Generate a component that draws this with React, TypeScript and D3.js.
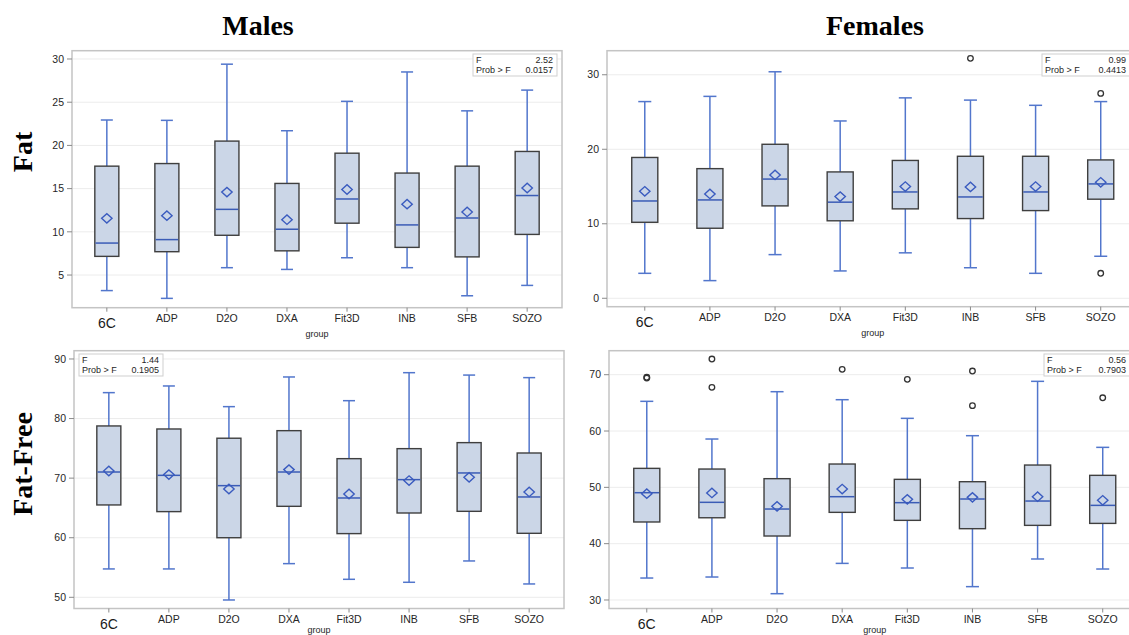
import React from "react";
import * as d3 from "d3";

// Measurement methods on the x axis
const groups = ["6C", "ADP", "D2O", "DXA", "Fit3D", "INB", "SFB", "SOZO"];

// Box statistics per group: [lower whisker, Q1, median, Q3, upper whisker]
const maleFatBoxes = [
  [3.2, 7.16, 8.7, 17.6, 22.94],
  [2.3, 7.7, 9.1, 17.9, 22.9],
  [5.85, 9.6, 12.6, 20.5, 29.4],
  [5.65, 7.8, 10.3, 15.6, 21.7],
  [7.0, 11.0, 13.8, 19.1, 25.1],
  [5.85, 8.2, 10.8, 16.8, 28.5],
  [2.6, 7.1, 11.6, 17.6, 24.0],
  [3.8, 9.7, 14.2, 19.3, 26.4],
];
const maleFatMeans = [11.56, 11.87, 14.6, 11.4, 14.9, 13.2, 12.3, 15.07];
const maleFatOutliers: number[][] = [[], [], [], [], [], [], [], []];
const maleFatTicks = [5, 10, 15, 20, 25, 30];

const femaleFatBoxes = [
  [3.35, 10.2, 13.06, 18.9, 26.4],
  [2.37, 9.4, 13.2, 17.4, 27.1],
  [5.86, 12.4, 16.0, 20.67, 30.4],
  [3.67, 10.4, 12.9, 16.96, 23.8],
  [6.1, 12.0, 14.27, 18.5, 26.9],
  [4.1, 10.7, 13.6, 19.06, 26.6],
  [3.35, 11.77, 14.27, 19.06, 25.9],
  [5.64, 13.3, 15.35, 18.57, 26.4],
];
const femaleFatMeans = [14.36, 14.0, 16.55, 13.65, 15.0, 14.95, 15.0, 15.57];
const femaleFatOutliers: number[][] = [[], [], [], [], [], [32.2], [], [27.5, 3.35]];
const femaleFatTicks = [0, 10, 20, 30];

const maleFatFreeBoxes = [
  [54.76, 65.5, 71.03, 78.76, 84.35],
  [54.76, 64.38, 70.47, 78.25, 85.47],
  [49.55, 60.0, 68.74, 76.7, 82.0],
  [55.65, 65.27, 71.03, 77.97, 86.98],
  [53.02, 60.69, 66.67, 73.27, 83.0],
  [52.52, 64.15, 69.75, 74.95, 87.7],
  [56.1, 64.43, 70.87, 75.96, 87.3],
  [52.24, 60.74, 66.84, 74.22, 86.87],
];
const maleFatFreeMeans = [71.2, 70.6, 68.18, 71.43, 67.34, 69.6, 70.14, 67.68];
const maleFatFreeOutliers: number[][] = [[], [], [], [], [], [], [], []];
const maleFatFreeTicks = [50, 60, 70, 80, 90];

const femaleFatFreeBoxes = [
  [33.9, 43.85, 49.05, 53.37, 65.27],
  [34.08, 44.6, 47.34, 53.25, 58.58],
  [31.12, 41.36, 46.15, 51.54, 66.98],
  [36.5, 45.56, 48.34, 54.14, 65.56],
  [35.68, 44.14, 47.28, 51.42, 62.25],
  [32.37, 42.66, 47.93, 51.0, 59.17],
  [37.28, 43.25, 47.57, 53.96, 68.82],
  [35.5, 43.6, 46.8, 52.13, 57.1],
];
const femaleFatFreeMeans = [48.88, 49.0, 46.63, 49.7, 47.87, 48.22, 48.34, 47.7];
const femaleFatFreeOutliers: number[][] = [[69.4, 69.55], [72.78, 67.75], [], [70.95], [69.17], [70.65, 64.5], [], [65.9]];
const femaleFatFreeTicks = [30, 40, 50, 60, 70];

// ANOVA summaries: [F value, Prob > F]
const maleFatAnova = ["2.52", "0.0157"];
const femaleFatAnova = ["0.99", "0.4413"];
const maleFatFreeAnova = ["1.44", "0.1905"];
const femaleFatFreeAnova = ["0.56", "0.7903"];

const columnTitles = ["Males", "Females"];
const rowTitles = ["Fat", "Fat-Free"];

const SANS = "'Liberation Sans', Arial, Helvetica, sans-serif";
const SERIF = "'Liberation Serif', 'Times New Roman', serif";
const W = 1129;
const H = 635;

const C = {
  frame: "#c4c4c4",
  grid: "#ececec",
  tick: "#8a8a8a",
  tickText: "#262626",
  boxFill: "#cbd6e7",
  boxStroke: "#3f3f3f",
  whisker: "#5276cc",
  median: "#3b5cb6",
  mean: "#3a5bbf",
  outlier: "#333",
};

type PanelSpec = {
  x0: number; x1: number; y0: number; y1: number;
  domain: [number, number];
  ticks: number[];
  boxes: number[][];
  means: number[];
  outliers: number[][];
  anova: string[];
  anovaBox: { x: number; y: number; w: number };
};

const panels: PanelSpec[] = [
  {
    x0: 72, x1: 562, y0: 50.7, y1: 307.7, domain: [1.22, 30.96], ticks: maleFatTicks,
    boxes: maleFatBoxes, means: maleFatMeans, outliers: maleFatOutliers, anova: maleFatAnova,
    anovaBox: { x: 473, y: 54, w: 84 },
  },
  {
    x0: 607, x1: 1138.5, y0: 50.7, y1: 306.7, domain: [-1.13, 33.23], ticks: femaleFatTicks,
    boxes: femaleFatBoxes, means: femaleFatMeans, outliers: femaleFatOutliers, anova: femaleFatAnova,
    anovaBox: { x: 1042, y: 54, w: 88 },
  },
  {
    x0: 74, x1: 564, y0: 350.7, y1: 608.5, domain: [48.12, 91.39], ticks: maleFatFreeTicks,
    boxes: maleFatFreeBoxes, means: maleFatFreeMeans, outliers: maleFatFreeOutliers, anova: maleFatFreeAnova,
    anovaBox: { x: 79, y: 354, w: 84 },
  },
  {
    x0: 609, x1: 1140.5, y0: 350.7, y1: 608.5, domain: [28.49, 74.26], ticks: femaleFatFreeTicks,
    boxes: femaleFatFreeBoxes, means: femaleFatFreeMeans, outliers: femaleFatFreeOutliers, anova: femaleFatFreeAnova,
    anovaBox: { x: 1044, y: 354, w: 86 },
  },
];

function BoxPanel({ p }: { p: PanelSpec }) {
  const x = d3.scalePoint<string>().domain(groups).range([p.x0, p.x1]).padding(0.58);
  const y = d3.scaleLinear().domain(p.domain).range([p.y1, p.y0]);
  const step = x.step();
  const bw = step * 0.4;
  const cw = step * 0.2;
  const dw = 5.2;
  const dh = 4.7;
  const ab = p.anovaBox;
  const visibleRight = Math.min(p.x1, W);
  const groupX = (p.x0 + p.x1) / 2;
  const groupY = Math.min(p.y1 + 29, H - 2);

  return (
    <g>
      {/* gridlines */}
      {p.ticks.map((t) => (
        <line key={"g" + t} x1={p.x0} x2={p.x1} y1={y(t)} y2={y(t)} stroke={C.grid} strokeWidth={1} />
      ))}
      {/* frame */}
      <rect x={p.x0} y={p.y0} width={p.x1 - p.x0} height={p.y1 - p.y0} fill="none" stroke={C.frame} strokeWidth={1.5} />
      {/* y axis ticks */}
      {p.ticks.map((t) => (
        <g key={"y" + t}>
          <line x1={p.x0 - 5} x2={p.x0} y1={y(t)} y2={y(t)} stroke={C.tick} strokeWidth={1} />
          <text x={p.x0 - 8} y={y(t)} dy="0.35em" textAnchor="end" fontFamily={SANS} fontSize={10.5} fill={C.tickText}>
            {t}
          </text>
        </g>
      ))}
      {/* x axis ticks and labels */}
      {groups.map((g, i) => (
        <g key={"x" + g}>
          <line x1={x(g)} x2={x(g)} y1={p.y1} y2={p.y1 + 4} stroke={C.tick} strokeWidth={1} />
          {i === 0 ? (
            <text x={x(g)} y={p.y1 + 20} textAnchor="middle" fontFamily={SANS} fontSize={14} fill="#1a1a1a">
              {g}
            </text>
          ) : (
            <text x={x(g)} y={p.y1 + 14} textAnchor="middle" fontFamily={SANS} fontSize={10.5} fill={C.tickText}>
              {g}
            </text>
          )}
        </g>
      ))}
      <text x={Math.min(groupX, visibleRight - 20)} y={groupY} textAnchor="middle" fontFamily={SANS} fontSize={9} fill={C.tickText}>
        group
      </text>
      {/* boxes */}
      {groups.map((g, i) => {
        const [lo, q1, med, q3, hi] = p.boxes[i];
        const cx = x(g) as number;
        const my = y(p.means[i]);
        return (
          <g key={"b" + g}>
            <line x1={cx} x2={cx} y1={y(q3)} y2={y(hi)} stroke={C.whisker} strokeWidth={1.5} />
            <line x1={cx} x2={cx} y1={y(q1)} y2={y(lo)} stroke={C.whisker} strokeWidth={1.5} />
            <line x1={cx - cw / 2} x2={cx + cw / 2} y1={y(hi)} y2={y(hi)} stroke={C.whisker} strokeWidth={1.5} />
            <line x1={cx - cw / 2} x2={cx + cw / 2} y1={y(lo)} y2={y(lo)} stroke={C.whisker} strokeWidth={1.5} />
            <rect x={cx - bw / 2} y={y(q3)} width={bw} height={y(q1) - y(q3)} fill={C.boxFill} stroke={C.boxStroke} strokeWidth={1.4} />
            <line x1={cx - bw / 2 + 0.7} x2={cx + bw / 2 - 0.7} y1={y(med)} y2={y(med)} stroke={C.median} strokeWidth={1.5} />
            <path
              d={`M${cx - dw},${my} L${cx},${my - dh} L${cx + dw},${my} L${cx},${my + dh} Z`}
              fill="none"
              stroke={C.mean}
              strokeWidth={1.4}
            />
            {p.outliers[i].map((o, k) => (
              <circle key={k} cx={cx} cy={y(o)} r={2.8} fill="none" stroke={C.outlier} strokeWidth={1.3} />
            ))}
          </g>
        );
      })}
      {/* ANOVA inset */}
      <g>
        <rect x={ab.x} y={ab.y} width={ab.w} height={22} fill="#fff" stroke="#cfcfcf" strokeWidth={1} />
        <text x={ab.x + 3} y={ab.y + 9} fontFamily={SANS} fontSize={9} fill={C.tickText}>F</text>
        <text x={ab.x + ab.w - 4} y={ab.y + 9} textAnchor="end" fontFamily={SANS} fontSize={9} fill={C.tickText}>
          {p.anova[0]}
        </text>
        <text x={ab.x + 3} y={ab.y + 19} fontFamily={SANS} fontSize={9} fill={C.tickText}>Prob &gt; F</text>
        <text x={ab.x + ab.w - 4} y={ab.y + 19} textAnchor="end" fontFamily={SANS} fontSize={9} fill={C.tickText}>
          {p.anova[1]}
        </text>
      </g>
    </g>
  );
}

export default function App() {
  return (
    <div style={{ position: "fixed", left: 0, top: 0, width: W, height: H, background: "#fff", overflow: "hidden" }}>
      <svg width={W} height={H} viewBox={`0 0 ${W} ${H}`} style={{ display: "block" }}>
        <rect width={W} height={H} fill="#fff" />
        {panels.map((p, i) => (
          <BoxPanel key={i} p={p} />
        ))}
        <text x={258} y={35} textAnchor="middle" fontFamily={SERIF} fontWeight="bold" fontSize={28} fill="#000">
          {columnTitles[0]}
        </text>
        <text x={875} y={35} textAnchor="middle" fontFamily={SERIF} fontWeight="bold" fontSize={28} fill="#000">
          {columnTitles[1]}
        </text>
        <text transform="translate(32,152) rotate(-90)" textAnchor="middle" fontFamily={SERIF} fontWeight="bold" fontSize={28} fill="#000">
          {rowTitles[0]}
        </text>
        <text transform="translate(32,464) rotate(-90)" textAnchor="middle" fontFamily={SERIF} fontWeight="bold" fontSize={28} fill="#000">
          {rowTitles[1]}
        </text>
      </svg>
    </div>
  );
}
